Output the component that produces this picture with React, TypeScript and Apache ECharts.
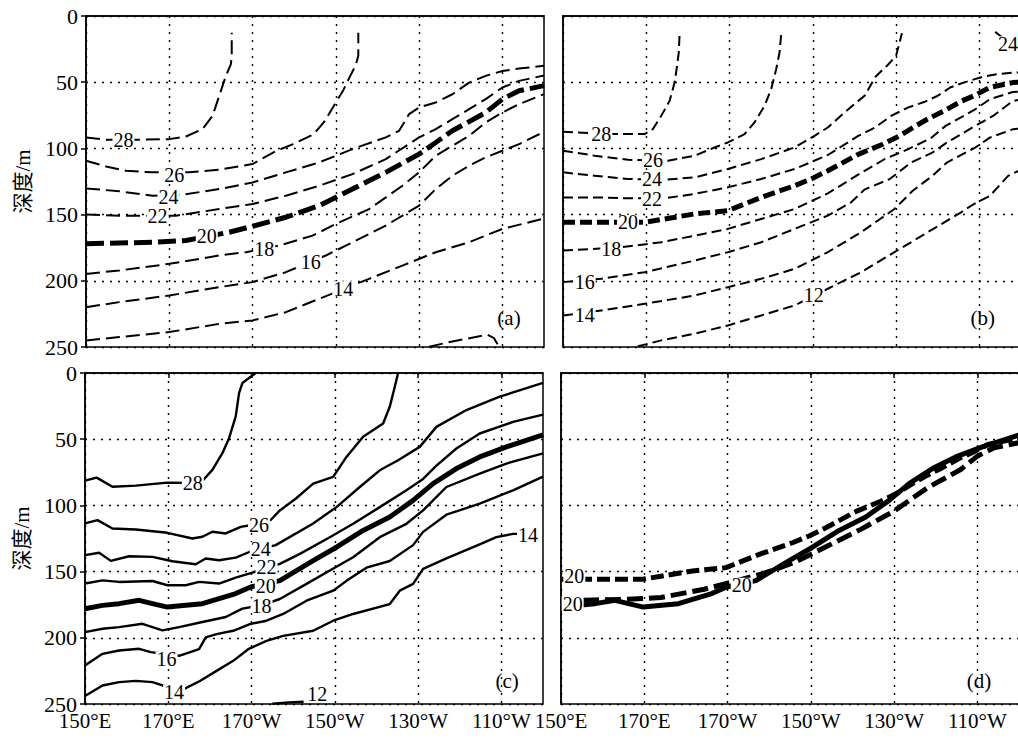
import React, { useEffect, useRef } from 'react';
import * as echarts from 'echarts';

const LON0 = 150;
const LON_MAX = 260;
const X_TICKS = [150, 170, 190, 210, 230, 250];
const DEPTH_MAX = 250;
const DEPTH_STEP = 50;
const Y_NAME = '深度/m';
const PANEL_NAMES = ['(a)', '(b)', '(c)', '(d)'];

// ---------- panel (a): isotherms [lon (°E), depth (m)] ----------
const a28 = [[150,91.7],[154.8,93.5],[162,93.5],[170,93],[174,91],[178,85.4],[180.4,75.4],[182,60.3],[183.6,45.2],[184.8,36.4],[185,30],[185,12.6]];
const a26 = [[150,109.3],[154.8,113.6],[159.6,116.9],[166,118.1],[174.8,118.1],[182,116.1],[190,111.8],[195.6,102],[199.6,97],[204.6,89.5],[207.2,80],[209.4,68.5],[211.8,56],[213.5,45],[214.8,37],[215.4,30],[215.4,12.6]];
const a24 = [[150,130.2],[158,132.4],[166,135.7],[173.2,135],[182,130.7],[190,125.7],[198,118.1],[206,110.6],[214,100.5],[222,91.7],[225.2,86.7],[227.6,74.1],[230,69.1],[234,65.3],[238,59.1],[242,50.3],[246,45.2],[250,41.5],[254,39.7],[260,37.6]];
const a22 = [[150,150],[158,150.8],[171.6,150.8],[182,145.8],[190,142],[198,135.7],[206,128.2],[214,119.4],[222,108.1],[230,91.7],[234,85.4],[238,77.9],[242,70.4],[246,62.8],[250,54],[254,49],[260,45]];
const a20 = [[150,172.1],[158,171.4],[166,170.9],[174,169.6],[184.4,163.3],[190,158.8],[198,152],[206,143.2],[214,130.7],[222,118.1],[230,104.3],[234,95.5],[238,86.7],[246,72.9],[250,62.8],[254,56.5],[260,52.6]];
const a18 = [[150,194.8],[158,192.2],[170,187.2],[182,180.9],[188.4,178.4],[196.4,173.4],[204.4,165.9],[210,157.1],[218,145.8],[226,128.2],[230,118.1],[234,105.5],[238,98],[242,90.5],[246,80.4],[250,72.9],[254,66.6],[260,59]];
const a16 = [[150,219.9],[158,216.1],[170,211.1],[182,204.8],[190,201],[198,193.5],[207.6,180.9],[214,170.9],[222,158.3],[230,143.2],[234,130.7],[238,120.6],[242,113.1],[246,106.8],[250,101.8],[254,96.8],[260,87.5]];
const a14 = [[150,245],[158,242.5],[170,238.7],[182,232.5],[190,229.9],[198,223.7],[206,213.6],[212,206],[218,198.5],[226,188.5],[234,178.4],[242,170.9],[250,160.8],[260,153]];
const a12 = [[232.4,249.8],[238,245.8],[243.6,242.5],[246.4,240.7],[248,243.3],[249.2,249.8]];
const aLabels = [[159,94,'28'],[171.2,120,'26'],[169.8,137,'24'],[167.2,151,'22'],[179,166,'20'],[192.8,176,'18'],[204,186,'16'],[211.8,206,'14']];

// ---------- panel (b) ----------
const b28 = [[150,87.5],[162.4,89.2],[169.6,89.2],[171.6,85.4],[173.6,75.4],[175.6,64.1],[176.8,50.3],[177.4,37.7],[177.8,27.6],[178,13.8]];
const b26 = [[150,101.8],[157.6,105.5],[165.6,108.6],[175.2,109.3],[181.6,105.5],[186.4,99.3],[189.6,95.5],[193.6,89.2],[196,80.4],[198.4,67.9],[200,55.3],[201.2,40.2],[202,27.6],[202.4,13.8]];
const b24 = [[150,118.1],[157.6,120.6],[165.6,123.1],[174.4,123.6],[181.6,121.9],[189.6,115.6],[197.6,108.1],[205.6,99.3],[210.4,90.5],[213.6,84.2],[217.6,72.9],[222.5,60],[225,46],[228,37],[230,30],[231.4,13]];
const b24e = [[253.8,12],[255.2,15.5],[257,20],[259,25],[260,27]];
const b22 = [[150,137],[157.6,137],[165.6,137.7],[174.4,137.7],[181.6,134.4],[189.6,129.4],[197.6,123.1],[205.6,115.6],[213.6,105],[220.9,90.6],[224.9,84.3],[228.8,75.5],[232.8,69.2],[236.7,65],[239.9,60.4],[243,54],[246.2,50.3],[250.9,45.8],[254.1,44],[258,42.8],[260,42.5]];
const b20 = [[150,155.8],[157.6,155.8],[169.6,155.8],[181.6,149.5],[189.6,147],[197.6,137],[205.6,128.2],[209.6,123.1],[213.6,116.9],[220.9,104.5],[226.8,96.9],[230.8,90.6],[234.7,83],[237.5,78],[241.5,71.7],[245.8,64.2],[248.6,60.4],[252.5,54],[258,50.3],[260,50]];
const b18 = [[150,177.2],[164,174.7],[173.6,170.9],[181.6,165.9],[189.6,160.8],[197.6,153.3],[205.6,145.8],[213.6,134],[221.7,118.3],[227.2,108.2],[232.8,100.7],[238.3,92.4],[241.9,83],[249,70.5],[252.5,62.9],[258,57.4],[260,57]];
const b16 = [[150,201],[159.2,198.5],[169.6,193.5],[181.6,184.7],[189.6,178.4],[197.6,170.9],[205.6,160.8],[213.6,150.8],[219.2,140.7],[222.5,130.9],[228.4,123.3],[233.6,110.7],[238.7,103.2],[242.2,95.6],[249,83],[253.3,75.5],[258,64.2],[260,63]];
const b14 = [[150,226.2],[159.2,222.4],[169.6,217.4],[181.6,211.1],[189.6,204.8],[197.6,198.5],[205.6,191],[213.6,178.4],[221.6,163.3],[229.6,145.8],[234,132],[238.7,120.8],[242.2,110.7],[249,99.4],[252.5,91.9],[258,85.6],[260,85]];
const b12 = [[168,249.5],[173.6,245],[181.6,240],[189.6,233.7],[197.6,226.2],[205.6,218.6],[213.6,206],[221.6,193.5],[229.6,178.4],[237.6,163.3],[245.6,148.3],[248.6,142.2],[252.5,135.9],[256.9,120.8],[260,116]];
const bLabels = [[159.2,89,'28'],[171.6,108.5,'26'],[171.4,123,'24'],[171.4,138,'22'],[165.6,155.8,'20'],[161.6,176,'18'],[155.2,201,'16'],[155.2,226,'14'],[210.2,211,'12'],[256.9,21,'24']];

// ---------- panel (c) ----------
const c28 = [[150,81.3],[152.8,79],[156.6,85.9],[162.2,85.1],[169.8,82.8],[175,83],[178.4,80.8],[180.6,73.2],[183,60.6],[184.6,49.2],[186.2,32.8],[187,15.2],[187.8,7.6],[189.4,3.8],[191,0]];
const c26 = [[150,113.6],[153,111.1],[156.6,117.4],[162.2,118.2],[169.8,120.7],[175.8,125],[178.2,123.7],[180.6,119.9],[183.8,121.2],[187.4,116.2],[191.5,114],[194.6,111],[196.8,103.8],[200.6,95],[204.8,83.6],[209.6,78.5],[212.8,63.4],[216.8,48.2],[221.6,38.1],[223.2,25.5],[224.4,10.4],[225.2,0]];
const c24 = [[150,137.6],[153.4,135.8],[156.2,141.9],[160.6,138.4],[166.2,138.9],[171,142.2],[176.6,144.4],[179,140.1],[182.2,141.4],[186.2,139.4],[189.6,135],[195.8,130],[204.7,113.9],[210.4,101.3],[216,86.1],[220.8,73.5],[225.2,65.9],[230.4,55.8],[234.4,40.7],[241.6,28],[249.6,17.9],[260,7.5]];
const c22 = [[150,159],[154.2,156.6],[158.2,157.8],[166.2,157.1],[169.8,160.3],[174.2,160.3],[177.4,157.8],[182.2,159],[186.2,154.5],[189.4,151.5],[196.8,144.2],[201.6,136.6],[208.8,124],[214.4,113.9],[220.8,101.3],[227.2,88.6],[231.2,80],[234.4,70],[239.2,57],[244.8,45.7],[252.8,36.9],[260,31.5]];
const c20 = [[150,178],[154.2,175.5],[158.2,174.2],[163,171.7],[166.2,174.2],[169.8,176.8],[174.2,175.5],[178.2,174.2],[182.2,170.4],[186.2,166.6],[189.8,161.6],[196.8,156.8],[204.8,141.7],[210.4,131.6],[216.8,118.9],[223.2,108.8],[228.8,96.2],[233.6,83.6],[239.2,72.2],[244.8,63.4],[251.2,55.8],[260,46.8]];
const c18 = [[150,195.7],[154.2,193.2],[158.2,191.9],[163.8,189.4],[168.6,194.4],[172.6,191.9],[178.2,188.1],[183.8,184.3],[187.8,178],[192.4,175.5],[196.8,170.7],[203.2,159.3],[208.8,149.2],[214.4,139.1],[220.8,124],[227.2,113.9],[231.2,103.8],[236.8,86.1],[244.8,76],[251.2,68.4],[260,60.7]];
const c16 = [[150,221],[154.2,212.1],[158.2,209.6],[163,208.3],[165.8,210.8],[172.6,213.6],[177.4,208.5],[179,199.7],[181.6,197.2],[185.6,194.7],[189.6,189.6],[193.6,187.1],[197.6,182],[203.2,172],[209.6,164.4],[212.8,157],[217.6,147],[223.2,142],[228.8,130],[231.2,120],[236.8,107],[244.8,98.7],[252.8,88.6],[260,78.3]];
const c14 = [[150,244],[154.2,236],[158.2,233.5],[162.2,232.5],[166.2,233.5],[168.6,236],[173.6,238.9],[177.6,232.6],[181.6,225],[185.6,217.4],[189.2,208.6],[193.6,202.3],[197.6,198.5],[204.8,194.7],[209.6,187.1],[214.4,182],[223.2,174.5],[225.6,164.4],[228.8,159.3],[231.2,148],[236.8,140],[244.8,129.5],[248.8,124],[252.8,121.5],[256.5,121.5]];
const c12 = [[195,249.8],[199,248.8],[202.5,248.3]];
const cLabels = [[175.9,83.3,'28'],[191.8,114.5,'26'],[192.2,133.3,'24'],[193.6,146.8,'22'],[193.4,160.5,'20'],[192.4,175.8,'18'],[169.6,215.9,'16'],[171.4,241,'14'],[256.4,122.5,'14'],[205.8,242.4,'12']];

// ---------- panel (d): the three 20 °C isotherms ----------
const dLabels = [[153.2,153.5,'20'],[152.8,174.2,'20'],[193.4,160.3,'20']];

// panel letter positions
const panelPos = [[251.6,228],[250.8,228],[251.4,233],[250.4,233]];

const SERIF = "'Liberation Serif', 'Times New Roman', 'Noto Sans CJK SC', serif";
const FS = 21;
const FS_Y = 22;
const FS_LABEL = 20;

function lonText(v: number): string {
  const lon = v + LON0;
  if (lon >= LON_MAX) return '';
  if (lon < 180) return `${lon}°E`;
  if (lon === 180) return '180°';
  return `${360 - lon}°W`;
}

export default function App() {
  const ref = useRef<HTMLDivElement>(null);
  useEffect(() => {
    if (!ref.current) return;
    const chart = echarts.init(ref.current, null, { renderer: 'svg' });

    const grids = [
      { left: 86, top: 16, width: 458, height: 331 },
      { left: 563, top: 16, width: 458, height: 331 },
      { left: 85, top: 373, width: 458, height: 331 },
      { left: 561, top: 373, width: 458, height: 331 },
    ].map((g) => ({ ...g, show: true, borderColor: '#000', borderWidth: 1.5, backgroundColor: 'transparent' }));

    const tickVals = X_TICKS.map((t) => t - LON0);
    const gridLine = { show: true, lineStyle: { color: '#000', width: 1.4, type: [2, 6] } };

    const xAxis = [0, 1, 2, 3].map((i) => ({
      gridIndex: i,
      type: 'value',
      min: 0,
      max: LON_MAX - LON0,
      interval: 20,
      axisLine: { show: true, lineStyle: { color: '#000', width: 1.5 } },
      axisTick: { show: i >= 2, length: 5, lineStyle: { color: '#000', width: 1.5 }, customValues: tickVals },
      axisLabel: {
        show: i >= 2, margin: 9, color: '#000', fontSize: FS, fontFamily: SERIF, lineHeight: 16,
        formatter: lonText, customValues: tickVals,
      },
      splitLine: gridLine,
    }));

    const yAxis = [0, 1, 2, 3].map((i) => {
      const left = i === 0 || i === 2;
      return {
        gridIndex: i,
        type: 'value',
        inverse: true,
        min: 0,
        max: DEPTH_MAX,
        interval: DEPTH_STEP,
        name: left ? Y_NAME : '',
        nameLocation: 'middle',
        nameGap: 53,
        nameRotate: 90,
        nameTextStyle: { color: '#000', fontSize: FS, fontFamily: SERIF },
        axisLine: { show: true, lineStyle: { color: '#000', width: 1.5 } },
        axisTick: { show: left, length: 5, lineStyle: { color: '#000', width: 1.5 } },
        axisLabel: { show: left, margin: 8, color: '#000', fontSize: FS_Y, fontFamily: SERIF, lineHeight: 16 },
        splitLine: gridLine,
      };
    });

    const line = (data: number[][], idx: number, width: number, dash: any) => ({
      type: 'line',
      xAxisIndex: idx,
      yAxisIndex: idx,
      data: data.map(([x, y]) => [x - LON0, y]),
      showSymbol: false,
      symbol: 'none',
      silent: true,
      clip: true,
      z: 3,
      lineStyle: { color: '#000', width, type: dash, cap: 'butt', join: 'round' },
    });

    const labels = (data: any[][], idx: number, bg: boolean, fs: number) => ({
      type: 'custom',
      xAxisIndex: idx,
      yAxisIndex: idx,
      data: data.map(([x, y]) => [x - LON0, y]),
      silent: true,
      clip: false,
      z: 10,
      renderItem: (params: any, api: any) => {
        const pt = api.coord([api.value(0), api.value(1)]);
        return {
          type: 'text',
          x: pt[0],
          y: pt[1],
          style: {
            text: String(data[params.dataIndex][2]),
            fill: '#000',
            fontSize: fs,
            fontFamily: SERIF,
            align: 'center',
            verticalAlign: 'middle',
            lineHeight: 15,
            padding: [0, 1],
            backgroundColor: bg ? '#fff' : 'transparent',
          },
        };
      },
    });

    const dA = [14, 6];
    const dAthick = [18, 6];
    const dB = [10, 5];
    const dBthick = [12, 5];

    const series: any[] = [
      line(a28, 0, 2, dA), line(a26, 0, 2, dA), line(a24, 0, 2, dA), line(a22, 0, 2, dA),
      line(a20, 0, 5, dAthick), line(a18, 0, 2, dA), line(a16, 0, 2, dA), line(a14, 0, 2, dA), line(a12, 0, 2, dA),
      line(b28, 1, 2, dB), line(b26, 1, 2, dB), line(b24, 1, 2, dB), line(b24e, 1, 2, dB), line(b22, 1, 2, dB),
      line(b20, 1, 5, dBthick), line(b18, 1, 2, dB), line(b16, 1, 2, dB), line(b14, 1, 2, dB), line(b12, 1, 2, dB),
      line(c28, 2, 2.4, 'solid'), line(c26, 2, 2.4, 'solid'), line(c24, 2, 2.4, 'solid'), line(c22, 2, 2.4, 'solid'),
      line(c20, 2, 5, 'solid'), line(c18, 2, 2.4, 'solid'), line(c16, 2, 2.4, 'solid'), line(c14, 2, 2.4, 'solid'), line(c12, 2, 2.4, 'solid'),
      line(b20, 3, 5, [13, 5]), line(a20, 3, 5, [16, 6]), line(c20, 3, 5, 'solid'),
      labels(aLabels, 0, true, FS_LABEL), labels(bLabels, 1, true, FS_LABEL),
      labels(cLabels, 2, true, FS_LABEL), labels(dLabels, 3, true, FS_LABEL),
      ...panelPos.map((p, i) => labels([[p[0], p[1], PANEL_NAMES[i]]], i, false, FS)),
    ];

    chart.setOption({
      animation: false,
      backgroundColor: '#fff',
      textStyle: { fontFamily: SERIF },
      grid: grids,
      xAxis,
      yAxis,
      series,
    });
    return () => chart.dispose();
  }, []);

  return (
    <div style={{ position: 'absolute', left: 0, top: 0, width: 1018, height: 739, overflow: 'hidden', background: '#fff' }}>
      <div ref={ref} style={{ width: 1030, height: 739 }} />
    </div>
  );
}
